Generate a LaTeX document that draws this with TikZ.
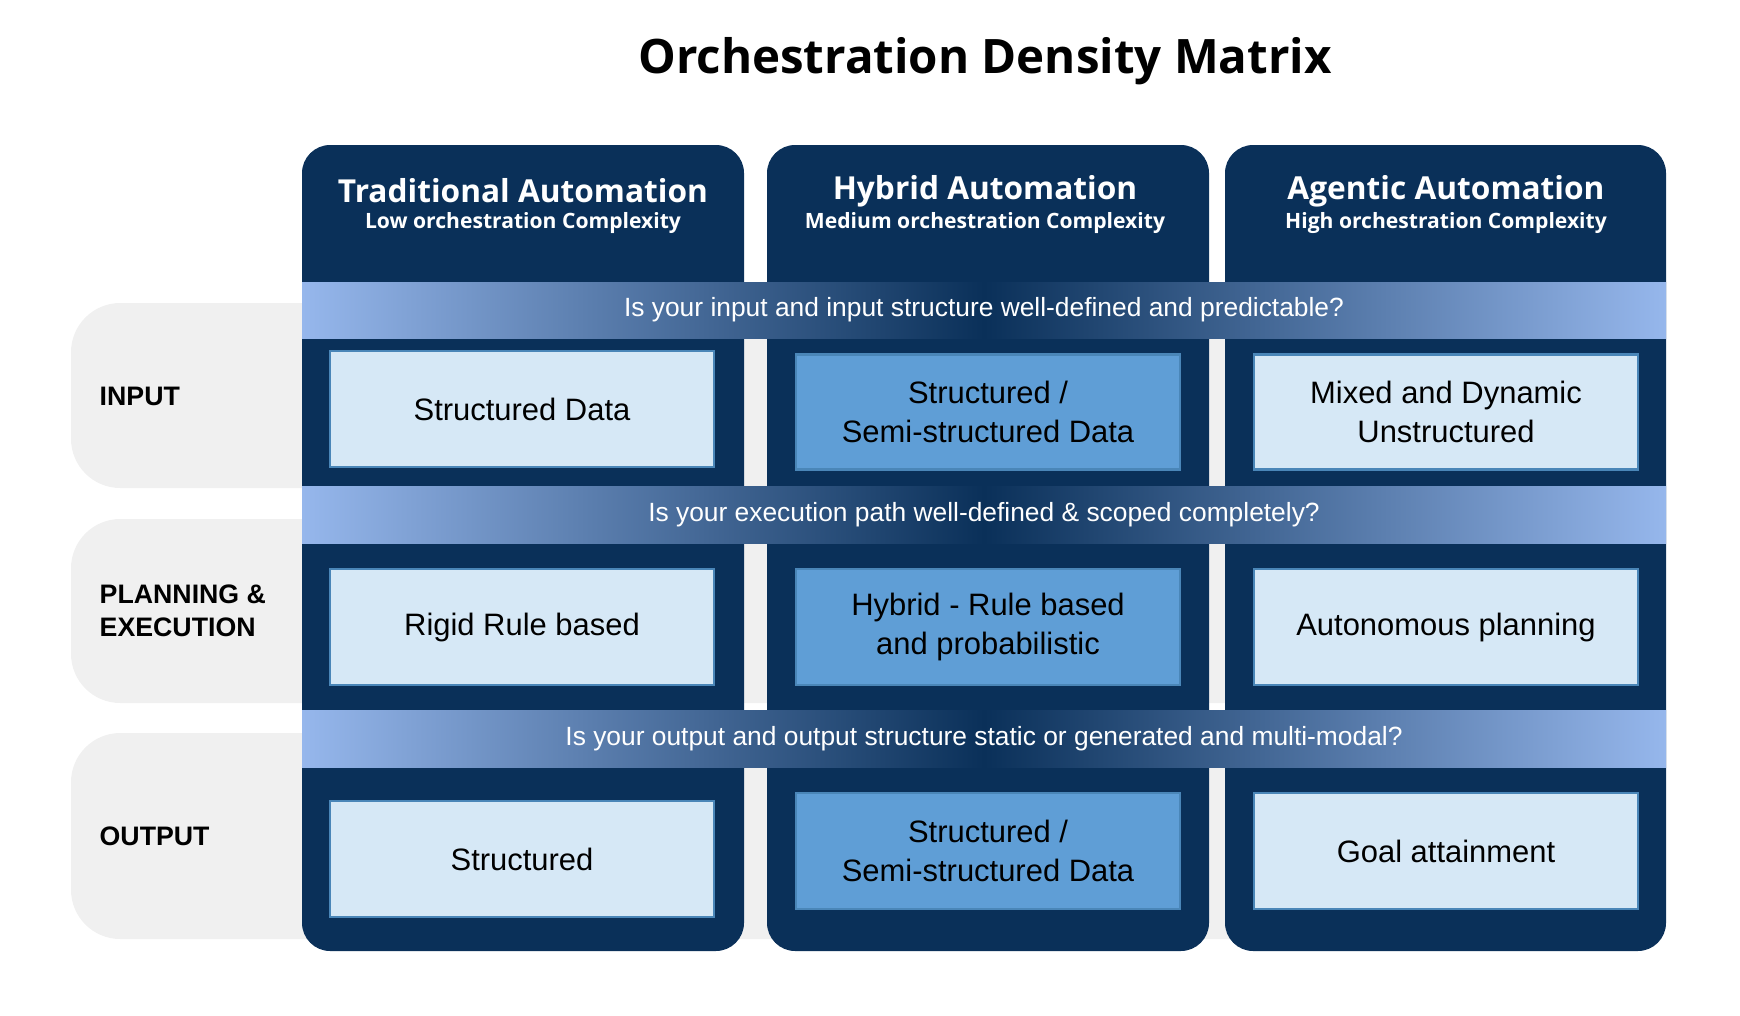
\documentclass[tikz,border=0pt]{standalone}
\usepackage{fontspec}
\setmainfont{Liberation Sans}
\newfontfamily\headfont{Open Sans}
\definecolor{navy}{HTML}{0A3059}
\definecolor{bandlight}{HTML}{96B7EC}
\definecolor{rowgray}{HTML}{F0F0F0}
\definecolor{celllight}{HTML}{D6E8F6}
\definecolor{cellmid}{HTML}{5F9ED6}
\definecolor{cellline}{HTML}{4A86B8}
\begin{document}
\begin{tikzpicture}[x=0.01cm,y=-0.01cm,
  column/.style={fill=navy,rounded corners=8},
  rowbox/.style={fill=rowgray,rounded corners=14},
  rowlabel/.style={anchor=west,inner sep=0pt,font=\bfseries\fontsize{7.6}{9.5}\selectfont,align=left},
  cell/.style={draw=cellline,line width=0.6pt,fill=celllight,font=\fontsize{8.8}{11}\selectfont,align=center},
  midcell/.style={cell,fill=cellmid},
  question/.style={text=white,font=\fontsize{7.5}{9}\selectfont}]
\useasboundingbox (0,0) rectangle (1740,1015);
\node[font=\headfont\bfseries\fontsize{13.5}{16}\selectfont] (title) at (985,61) {Orchestration Density Matrix};
% rows
\fill[rowbox] (71,303) rectangle (1666,488);
\fill[rowbox] (71,519) rectangle (1666,703);
\fill[rowbox] (71,733) rectangle (1666,939);
\node[rowlabel] (input) at (99,396) {INPUT};
\node[rowlabel] (plan) at (99,611) {PLANNING \&\\EXECUTION};
\node[rowlabel] (output) at (99,836) {OUTPUT};
% columns
\fill[column] (302,145) rectangle (744,951);
\fill[column] (767,145) rectangle (1209,951);
\fill[column] (1225,145) rectangle (1666,951);
\foreach \cx/\head/\sub [count=\i] in {523/Traditional Automation/Low orchestration Complexity,
  985/Hybrid Automation/Medium orchestration Complexity,
  1446/Agentic Automation/High orchestration Complexity}{
  \node[text=white,font=\headfont\bfseries\fontsize{9}{11}\selectfont] (head\i) at (\cx,191) {\head};
  \node[text=white,font=\headfont\bfseries\fontsize{6}{7}\selectfont] (sub\i) at (\cx,223) {\sub};
}
% question bands
\foreach \ya/\yb/\q [count=\i] in {282/338/Is your input and input structure well-defined and predictable?,
  486/543/Is your execution path well-defined \& scoped completely?,
  710/767/Is your output and output structure static or generated and multi-modal?}{
  \shade[left color=bandlight,right color=navy] (302,\ya) rectangle (984,\yb);
  \shade[left color=navy,right color=bandlight] (984,\ya) rectangle (1666,\yb);
  \node[question] (q\i) at (984,{(\ya+\yb)/2}) {\q};
}
% cells
\node[cell,minimum width=3.84cm,minimum height=1.16cm] (in1) at (522,409) {Structured Data};
\node[midcell,minimum width=3.84cm,minimum height=1.15cm] (in2) at (988,412) {Structured /\\Semi-structured Data};
\node[cell,minimum width=3.83cm,minimum height=1.15cm] (in3) at (1446,412) {Mixed and Dynamic\\Unstructured};
\node[cell,minimum width=3.84cm,minimum height=1.16cm] (pl1) at (522,627) {Rigid Rule based};
\node[midcell,minimum width=3.84cm,minimum height=1.16cm] (pl2) at (988,627) {Hybrid - Rule based\\and probabilistic};
\node[cell,minimum width=3.83cm,minimum height=1.16cm] (pl3) at (1446,627) {Autonomous planning};
\node[cell,minimum width=3.84cm,minimum height=1.16cm] (out1) at (522,859) {Structured};
\node[midcell,minimum width=3.84cm,minimum height=1.16cm] (out2) at (988,851) {Structured /\\Semi-structured Data};
\node[cell,minimum width=3.83cm,minimum height=1.16cm] (out3) at (1446,851) {Goal attainment};
\end{tikzpicture}
\end{document}
